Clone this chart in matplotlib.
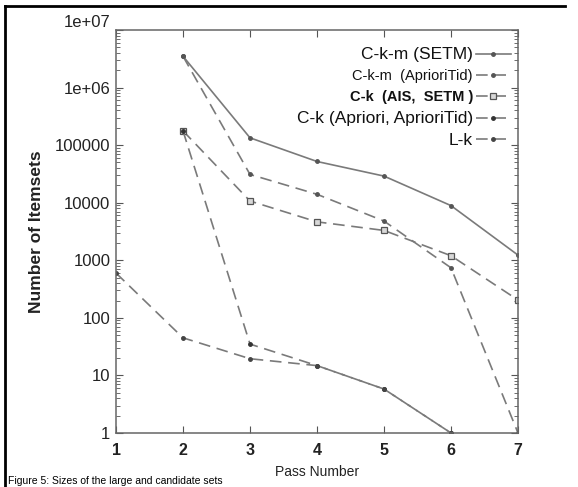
import matplotlib
matplotlib.use("Agg")
import matplotlib.pyplot as plt
from matplotlib.lines import Line2D
from matplotlib.ticker import LogLocator, FixedLocator, NullFormatter

plt.rcParams['font.family'] = ['Liberation Sans', 'DejaVu Sans']

# Number of itemsets per pass
passes_ckm_setm = [2, 3, 4, 5, 6, 7]
ckm_setm = [3.5e6, 134000, 52000, 29000, 8900, 1230]

passes_ckm_tid = [2, 3, 4, 5, 6, 7]
ckm_tid = [3.5e6, 31000, 14000, 4800, 740, 1]

passes_ck_ais = [2, 3, 4, 5, 6, 7]
ck_ais = [177000, 10700, 4650, 3300, 1200, 204]

passes_ck_apriori = [2, 3, 4, 5, 6]
ck_apriori = [177000, 35, 14.8, 5.8, 1]

passes_lk = [1, 2, 3, 4, 5, 6]
lk = [600, 45, 19.5, 14.8, 5.8, 1]

series_labels = ["C-k-m (SETM)", "C-k-m  (AprioriTid)", "C-k  (AIS,  SETM )",
                 "C-k (Apriori, AprioriTid)", "L-k"]
x_ticks = [1, 2, 3, 4, 5, 6, 7]
y_ticks = [1, 10, 100, 1000, 10000, 100000, 1e6, 1e7]
y_tick_labels = ["1", "10", "100", "1000", "10000", "100000", "1e+06", "1e+07"]

fig = plt.figure(figsize=(5.78, 4.87), dpi=100)
ax = fig.add_axes([0.2007, 0.1109, 0.6955, 0.8275])

gray = "#7a7a7a"
dash = (0, (7, 4))
ax.plot(passes_ckm_setm, ckm_setm, color=gray, lw=1.2, ls="-",
        marker=".", ms=5, mfc="#555555", mec="#555555", label=series_labels[0])
ax.plot(passes_ckm_tid, ckm_tid, color=gray, lw=1.2, ls=dash,
        marker=".", ms=5, mfc="#555555", mec="#555555", label=series_labels[1])
ax.plot(passes_ck_ais, ck_ais, color=gray, lw=1.2, ls=dash,
        marker="s", ms=5, mfc="#d8d8d8", mec="#555555", mew=0.9, label=series_labels[2])
ax.plot(passes_ck_apriori, ck_apriori, color=gray, lw=1.2, ls=dash,
        marker=".", ms=5, mfc="#333333", mec="#333333", label=series_labels[3])
ax.plot(passes_lk, lk, color=gray, lw=1.2, ls=dash,
        marker=".", ms=5, mfc="#444444", mec="#444444", label=series_labels[4])

ax.set_yscale("log")
ax.set_xlim(1, 7)
ax.set_ylim(1, 1e7)

ax.xaxis.set_major_locator(FixedLocator(x_ticks))
ax.set_xticklabels([str(v) for v in x_ticks])
ax.yaxis.set_major_locator(FixedLocator(y_ticks))
ax.set_yticklabels(y_tick_labels)
ax.yaxis.set_minor_locator(LogLocator(base=10, subs=range(2, 10), numticks=20))
ax.yaxis.set_minor_formatter(NullFormatter())

ax.tick_params(which="both", direction="in", top=True, right=True, color="#555555")
ax.tick_params(which="major", length=5, width=0.8)
ax.tick_params(which="minor", length=3, width=0.6)
ax.tick_params(axis="x", labelsize=11.5, pad=7)
ax.tick_params(axis="y", labelsize=12, pad=4)
for lbl in ax.get_xticklabels():
    lbl.set_fontweight("bold")
    lbl.set_color("#222222")
for lbl in ax.get_yticklabels():
    lbl.set_color("#222222")
# top label sits just above the frame
ax.get_yticklabels()[-1].set_verticalalignment("bottom")

for sp in ax.spines.values():
    sp.set_color("#666666")
    sp.set_linewidth(1.1)

ax.set_xlabel("Pass Number", fontsize=10, labelpad=5, color="#222222")
ax.set_ylabel("Number of Itemsets", fontsize=12.5, fontweight="bold", labelpad=8,
              color="#222222")

leg = ax.legend(loc="upper right", bbox_to_anchor=(1.015, 0.99), frameon=False,
                markerfirst=False, handlelength=2.4, handletextpad=0.2,
                labelspacing=0.47, fontsize=10.5)
leg_sizes = [12.5, 10.5, 10.5, 12.5, 12.5]
leg_weights = ["normal", "normal", "bold", "normal", "normal"]
for txt, sz, wt in zip(leg.get_texts(), leg_sizes, leg_weights):
    txt.set_fontsize(sz)
    txt.set_fontweight(wt)
    txt.set_color("#111111")

# page border from the document scan
fig.add_artist(Line2D([5 / 578, 565 / 578], [1 - 6 / 487, 1 - 6 / 487],
                      transform=fig.transFigure, color="black", lw=2))
fig.add_artist(Line2D([5 / 578, 5 / 578], [0, 1 - 6 / 487],
                      transform=fig.transFigure, color="black", lw=2))

fig.text(8 / 578, 1 / 487, "Figure 5: Sizes of the large and candidate sets",
         fontsize=7.5, va="bottom", ha="left", color="black")

fig.savefig("out.png", dpi=100)
